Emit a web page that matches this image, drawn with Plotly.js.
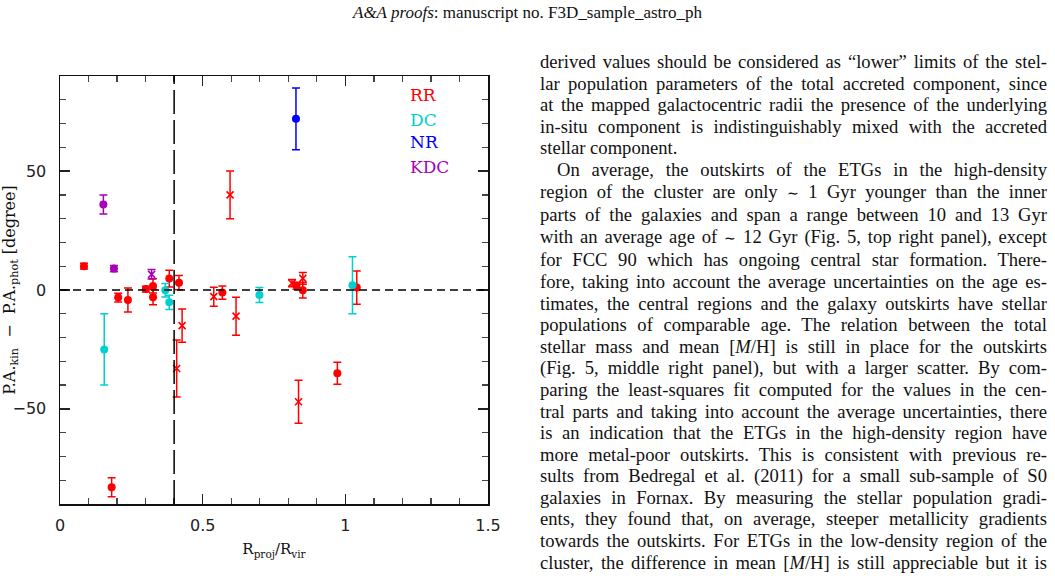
<!DOCTYPE html>
<html>
<head>
<meta charset="utf-8">
<script src="https://cdn.plot.ly/plotly-3.0.1.min.js"></script>
<style>
  html, body { margin: 0; padding: 0; background: #fff; }
  body { width: 1055px; height: 576px; position: relative; overflow: hidden; }
  #chart { position: absolute; left: 0; top: 0; width: 520px; height: 576px; z-index: 0; }
  #header { position: absolute; left: 0; top: 3px; width: 1055px; text-align: center; z-index: 2;
            font-family: "Liberation Serif", "Times New Roman", serif; font-size: 17px; color: #111; }
  #column { position: absolute; left: 540px; top: 51px; width: 507px; z-index: 2;
            font-family: "Liberation Serif", "Times New Roman", serif; font-size: 18.6px;
            line-height: 21.6px; color: #111; }
  #column div { text-align: justify; text-align-last: justify; white-space: nowrap; }
  #column div.last { text-align-last: left; }
  #column div.indent { text-indent: 17px; }
  .sim { font-size: 14px; }
</style>
</head>
<body>
<div id="chart"></div>
<div id="header"><i>A&amp;A proofs</i>: manuscript no. F3D_sample_astro_ph</div>
<div id="column">
  <div>derived values should be considered as “lower” limits of the stel-</div>
  <div>lar population parameters of the total accreted component, since</div>
  <div>at the mapped galactocentric radii the presence of the underlying</div>
  <div>in-situ component is indistinguishably mixed with the accreted</div>
  <div class="last">stellar component.</div>
  <div class="indent">On average, the outskirts of the ETGs in the high-density</div>
  <div>region of the cluster are only <span class="sim">∼</span> 1 Gyr younger than the inner</div>
  <div>parts of the galaxies and span a range between 10 and 13 Gyr</div>
  <div>with an average age of <span class="sim">∼</span> 12 Gyr (Fig. 5, top right panel), except</div>
  <div>for FCC 90 which has ongoing central star formation. There-</div>
  <div>fore, taking into account the average uncertainties on the age es-</div>
  <div>timates, the central regions and the galaxy outskirts have stellar</div>
  <div>populations of comparable age. The relation between the total</div>
  <div>stellar mass and mean [<i>M</i>/H] is still in place for the outskirts</div>
  <div>(Fig. 5, middle right panel), but with a larger scatter. By com-</div>
  <div>paring the least-squares fit computed for the values in the cen-</div>
  <div>tral parts and taking into account the average uncertainties, there</div>
  <div>is an indication that the ETGs in the high-density region have</div>
  <div>more metal-poor outskirts. This is consistent with previous re-</div>
  <div>sults from Bedregal et al. (2011) for a small sub-sample of S0</div>
  <div>galaxies in Fornax. By measuring the stellar population gradi-</div>
  <div>ents, they found that, on average, steeper metallicity gradients</div>
  <div>towards the outskirts. For ETGs in the low-density region of the</div>
  <div>cluster, the difference in mean [<i>M</i>/H] is still appreciable but it is</div>
</div>
<script>
// Regular rotators (RR): filled circles
const rrCircR   = [0.084, 0.204, 0.238, 0.301, 0.326, 0.326, 0.383, 0.417, 0.569, 0.829, 0.851, 1.04, 0.181, 0.972];
const rrCircPA  = [10, -3.2, -4.2, 0.4, 1.7, -3, 4.8, 3.1, -1.1, 1.8, -0.1, 1, -83, -35];
const rrCircErr = [1.2, 1.8, 5, 1.2, 3, 3.2, 3.5, 3, 2.8, 1.5, 3.3, 7, 4, 4.6];

// Regular rotators (RR): crosses
const rrCrossR   = [0.596, 0.539, 0.617, 0.428, 0.409, 0.836, 0.813, 0.851];
const rrCrossPA  = [40, -2.8, -11, -15, -33, -47, 2.9, 4.9];
const rrCrossErr = [10, 4, 8, 7, 12, 9, 1.5, 2.5];

// Double-component (DC)
const dcR   = [0.155, 0.369, 0.383, 0.699, 1.025];
const dcPA  = [-25, -0.1, -5.2, -2.1, 2];
const dcErr = [15, 2.8, 3, 3.2, 12];

// Non-rotator (NR)
const nrR   = [0.827];
const nrPA  = [72];
const nrErr = [13];

// Kinematically decoupled core (KDC)
const kdcCircR   = [0.152, 0.189];
const kdcCircPA  = [36, 9];
const kdcCircErr = [4, 1.3];
const kdcCrossR   = [0.321];
const kdcCrossPA  = [6.6];
const kdcCrossErr = [2];

// Legend labels and colours
const classNames  = ['RR', 'DC', 'NR', 'KDC'];
const classColors = ['#ff0000', '#00d0d0', '#0000ff', '#a800b8'];
const legendX = 1.22;
const legendY = [81.9, 71.7, 62.1, 51.8];

// Reference lines
const zeroOffset = 0;
const splitRadius = 0.4;

const xRange = [0, 1.5];
const yRange = [-90, 90];

function pts(x, y, err, color, symbol) {
  const cross = symbol === 'x-thin';
  return {
    type: 'scatter', mode: 'markers', x: x, y: y,
    marker: cross
      ? { symbol: 'x-thin', size: 7, color: color, line: { color: color, width: 1.6 } }
      : { symbol: 'circle', size: 8, color: color, line: { width: 0 } },
    error_y: { type: 'data', array: err, visible: true, color: color, thickness: 1.5, width: 4 },
    showlegend: false, hoverinfo: 'x+y'
  };
}

const data = [
  pts(rrCircR, rrCircPA, rrCircErr, classColors[0], 'circle'),
  pts(rrCrossR, rrCrossPA, rrCrossErr, classColors[0], 'x-thin'),
  pts(dcR, dcPA, dcErr, classColors[1], 'circle'),
  pts(nrR, nrPA, nrErr, classColors[2], 'circle'),
  pts(kdcCircR, kdcCircPA, kdcCircErr, classColors[3], 'circle'),
  pts(kdcCrossR, kdcCrossPA, kdcCrossErr, classColors[3], 'x-thin')
];

const axisCommon = {
  showgrid: false, zeroline: false, showline: true, linecolor: '#111', linewidth: 1.5,
  mirror: 'allticks', ticks: 'inside', ticklen: 10, tickwidth: 1.5, tickcolor: '#222',
  tickfont: { family: 'DejaVu Sans', size: 16, color: '#222' }
};

const layout = {
  width: 520, height: 576,
  margin: { l: 60, r: 32, t: 76, b: 72 },
  paper_bgcolor: 'rgba(0,0,0,0)', plot_bgcolor: '#fff',
  font: { family: 'DejaVu Sans', color: '#111' },
  xaxis: Object.assign({}, axisCommon, {
    range: xRange, tickvals: [0, 0.5, 1, 1.5], ticktext: ['0', '0.5', '1', '1.5'],
    ticklabelstandoff: 6,
    minor: { dtick: 0.1, ticks: 'inside', ticklen: 6, tickwidth: 1.3, tickcolor: '#444', showgrid: false },
    title: { text: 'R<sub>proj</sub>/R<sub>vir</sub>', font: { family: 'DejaVu Serif', size: 15, color: '#111' }, standoff: 10 }
  }),
  yaxis: Object.assign({}, axisCommon, {
    range: yRange, tickvals: [-50, 0, 50],
    ticklabelstandoff: 9,
    minor: { dtick: 10, ticks: 'inside', ticklen: 6, tickwidth: 1.3, tickcolor: '#444', showgrid: false },
    title: { text: 'P.A.<sub>kin</sub>  −  P.A.<sub>phot</sub> [degree]', font: { family: 'DejaVu Serif', size: 16, color: '#111' }, standoff: 2 }
  }),
  shapes: [
    { type: 'line', xref: 'x', yref: 'y', x0: xRange[0], x1: xRange[1], y0: zeroOffset, y1: zeroOffset,
      line: { color: '#000', width: 1.5, dash: '8px,5px' } },
    { type: 'line', xref: 'x', yref: 'y', x0: splitRadius, x1: splitRadius, y0: yRange[0], y1: yRange[1],
      line: { color: '#000', width: 1.5, dash: '24px,6px' } }
  ],
  annotations: classNames.map((name, i) => ({
    xref: 'x', yref: 'y', x: legendX, y: legendY[i], xanchor: 'left', yanchor: 'middle',
    text: name, showarrow: false, font: { family: 'DejaVu Serif', size: 17, color: classColors[i] }
  }))
};

Plotly.newPlot('chart', data, layout, { displayModeBar: false, staticPlot: true });
</script>
</body>
</html>
